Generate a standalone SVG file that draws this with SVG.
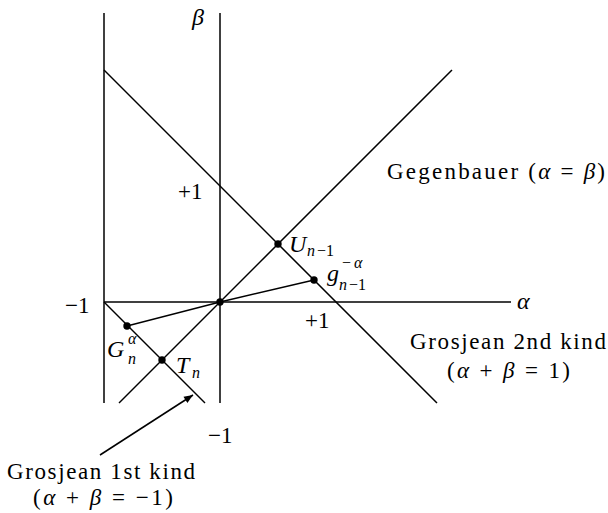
<svg xmlns="http://www.w3.org/2000/svg" width="608" height="513" viewBox="0 0 608 513">
<defs>
<style>
.ln{stroke:#000;stroke-width:1.5;fill:none}
.t{font-family:"Liberation Serif","DejaVu Serif",serif;font-size:23px;fill:#000}
.m{font-family:"Liberation Serif","DejaVu Serif",serif;font-size:24px;font-style:italic;fill:#000}
.s{font-size:16px}
.up{font-style:normal}
.dot{fill:#000}
</style>
<marker id="ah" viewBox="0 0 10 10" refX="10" refY="5" markerWidth="10" markerHeight="9" markerUnits="userSpaceOnUse" orient="auto">
<path d="M0,1 L10,5 L0,9 Z" fill="#000"/>
</marker>
</defs>
<g id="connectors">
<line class="ln" x1="104" y1="13" x2="104" y2="403"/>
<line class="ln" x1="220" y1="13" x2="220" y2="403"/>
<line class="ln" x1="104" y1="302" x2="511" y2="302"/>
<line class="ln" x1="104" y1="70" x2="437" y2="403"/>
<line class="ln" x1="119" y1="403" x2="452" y2="70"/>
<line class="ln" x1="104" y1="302" x2="205" y2="403"/>
<line class="ln" x1="127" y1="326" x2="220" y2="302"/>
<line class="ln" x1="220" y1="302" x2="314" y2="280"/>
<line class="ln" x1="100" y1="455" x2="193" y2="395" marker-end="url(#ah)"/>
</g>
<g id="points">
<circle class="dot" cx="220" cy="302" r="3.7"/>
<circle class="dot" cx="278" cy="244" r="3.7"/>
<circle class="dot" cx="314" cy="280" r="3.7"/>
<circle class="dot" cx="127" cy="326" r="3.7"/>
<circle class="dot" cx="162" cy="360" r="3.7"/>
</g>
<g id="axis-labels">
<text class="m" x="192" y="25">β</text>
<text class="m" x="517" y="309">α</text>
<text class="t" x="178" y="199">+1</text>
<text class="t" x="65" y="313">−1</text>
<text class="t" x="305" y="328">+1</text>
<text class="t" x="208" y="443">−1</text>
</g>
<g id="point-labels">
<text class="m" x="289" y="252">U<tspan class="s" x="307" y="256">n</tspan><tspan class="s up" x="317" y="256">−1</tspan></text>
<text class="m" x="327" y="281">g<tspan class="s up" x="342" y="268">−</tspan><tspan class="s" x="354" y="268">α</tspan><tspan class="s" x="339" y="290">n</tspan><tspan class="s up" x="349" y="290">−1</tspan></text>
<text class="m" x="107" y="357">G<tspan class="s" x="128" y="344">α</tspan><tspan class="s" x="128" y="364">n</tspan></text>
<text class="m" x="176" y="373">T<tspan class="s" x="192" y="378">n</tspan></text>
</g>
<g id="family-labels">
<text class="t" x="387" y="179" textLength="218" lengthAdjust="spacing">Gegenbauer (<tspan font-style="italic">α</tspan> = <tspan font-style="italic">β</tspan>)</text>
<text class="t" x="410" y="349" textLength="196" lengthAdjust="spacing">Grosjean 2nd kind</text>
<text class="t" x="447" y="378" textLength="123" lengthAdjust="spacing">(<tspan font-style="italic">α</tspan> + <tspan font-style="italic">β</tspan> = 1)</text>
<text class="t" x="7" y="479" textLength="188" lengthAdjust="spacing">Grosjean 1st kind</text>
<text class="t" x="33" y="505" textLength="140" lengthAdjust="spacing">(<tspan font-style="italic">α</tspan> + <tspan font-style="italic">β</tspan> = −1)</text>
</g>
</svg>
